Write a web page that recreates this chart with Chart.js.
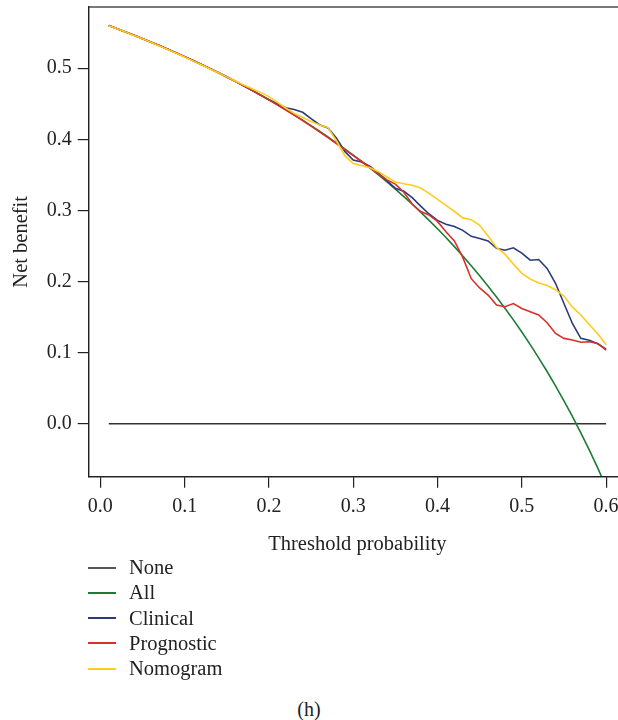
<!DOCTYPE html>
<html>
<head>
<meta charset="utf-8">
<script src="https://cdn.jsdelivr.net/npm/chart.js@4.4.1/dist/chart.umd.min.js"></script>
<style>
  body { margin: 0; background: #fff; overflow: hidden; }
  #wrap { position: relative; width: 618px; height: 720px; overflow: hidden; }
  #c { position: absolute; left: 0; top: 0; }
  .lg-row { position: absolute; left: 88px; height: 24px; display: flex; align-items: center;
            font: 20.5px "Liberation Serif", serif; color: #222; white-space: nowrap; }
  .lg-line { display: inline-block; width: 28px; height: 0; border-top: 2px solid; margin-right: 13px; }
  #caption { position: absolute; left: 0; width: 618px; top: 698px; text-align: center;
             font: 20px "Liberation Serif", serif; color: #222; }
</style>
</head>
<body>
<div id="wrap">
  <canvas id="c" width="640" height="560"></canvas>
  <div id="legend"></div>
  <div id="caption">(h)</div>
</div>
<script>
const thresholds = [
  0.01, 0.02, 0.03, 0.04, 0.05, 0.06, 0.07, 0.08, 0.09, 0.10,
  0.11, 0.12, 0.13, 0.14, 0.15, 0.16, 0.17, 0.18, 0.19, 0.20,
  0.21, 0.22, 0.23, 0.24, 0.25, 0.26, 0.27, 0.28, 0.29, 0.30,
  0.31, 0.32, 0.33, 0.34, 0.35, 0.36, 0.37, 0.38, 0.39, 0.40,
  0.41, 0.42, 0.43, 0.44, 0.45, 0.46, 0.47, 0.48, 0.49, 0.50,
  0.51, 0.52, 0.53, 0.54, 0.55, 0.56, 0.57, 0.58, 0.59, 0.60
];

const netNone = [
  0, 0, 0, 0, 0, 0, 0, 0, 0, 0,
  0, 0, 0, 0, 0, 0, 0, 0, 0, 0,
  0, 0, 0, 0, 0, 0, 0, 0, 0, 0,
  0, 0, 0, 0, 0, 0, 0, 0, 0, 0,
  0, 0, 0, 0, 0, 0, 0, 0, 0, 0,
  0, 0, 0, 0, 0, 0, 0, 0, 0, 0
];

const netAll = [
  0.5601, 0.5556, 0.5510, 0.5464, 0.5416, 0.5367, 0.5317, 0.5266, 0.5214, 0.5161,
  0.5107, 0.5051, 0.4994, 0.4936, 0.4876, 0.4815, 0.4753, 0.4689, 0.4623, 0.4556,
  0.4487, 0.4417, 0.4344, 0.4270, 0.4193, 0.4115, 0.4034, 0.3951, 0.3866, 0.3779,
  0.3688, 0.3596, 0.3500, 0.3402, 0.3300, 0.3195, 0.3087, 0.2976, 0.2861, 0.2742,
  0.2619, 0.2491, 0.2360, 0.2223, 0.2082, 0.1935, 0.1783, 0.1625, 0.1461, 0.1290,
  0.1112, 0.0927, 0.0734, 0.0533, 0.0322, 0.0102, -0.0128, -0.0369, -0.0622, -0.0888
];

const netClinical = [
  0.5601, 0.5556, 0.5510, 0.5463, 0.5415, 0.5366, 0.5318, 0.5267, 0.5216, 0.5163,
  0.5108, 0.5053, 0.4997, 0.4940, 0.4881, 0.4818, 0.4754, 0.4688, 0.4622, 0.4557,
  0.4500, 0.4445, 0.4420, 0.4380, 0.4290, 0.4205, 0.4160, 0.4020, 0.3830, 0.3710,
  0.3680, 0.3620, 0.3525, 0.3420, 0.3310, 0.3270, 0.3180, 0.3060, 0.2950, 0.2860,
  0.2805, 0.2775, 0.2720, 0.2635, 0.2605, 0.2570, 0.2467, 0.2440, 0.2475, 0.2400,
  0.2300, 0.2310, 0.2185, 0.1975, 0.1690, 0.1410, 0.1200, 0.1175, 0.1125, 0.1050
];

const netPrognostic = [
  0.5601, 0.5556, 0.5511, 0.5465, 0.5417, 0.5368, 0.5318, 0.5268, 0.5216, 0.5163,
  0.5109, 0.5053, 0.4996, 0.4938, 0.4877, 0.4816, 0.4753, 0.4688, 0.4622, 0.4554,
  0.4485, 0.4412, 0.4340, 0.4265, 0.4185, 0.4105, 0.4025, 0.3940, 0.3855, 0.3770,
  0.3688, 0.3600, 0.3510, 0.3430, 0.3370, 0.3255, 0.3090, 0.2985, 0.2935, 0.2845,
  0.2700, 0.2570, 0.2340, 0.2040, 0.1910, 0.1810, 0.1670, 0.1646, 0.1690, 0.1620,
  0.1575, 0.1530, 0.1420, 0.1270, 0.1200, 0.1177, 0.1145, 0.1153, 0.1130, 0.1035
];

const netNomogram = [
  0.5599, 0.5554, 0.5508, 0.5461, 0.5413, 0.5364, 0.5314, 0.5262, 0.5210, 0.5157,
  0.5103, 0.5048, 0.4992, 0.4936, 0.4878, 0.4820, 0.4765, 0.4712, 0.4660, 0.4600,
  0.4520, 0.4440, 0.4365, 0.4310, 0.4250, 0.4200, 0.4165, 0.3980, 0.3770, 0.3660,
  0.3630, 0.3600, 0.3545, 0.3470, 0.3400, 0.3375, 0.3355, 0.3315, 0.3240, 0.3155,
  0.3070, 0.2985, 0.2895, 0.2870, 0.2790, 0.2640, 0.2480, 0.2385, 0.2245, 0.2115,
  0.2035, 0.1980, 0.1945, 0.1885, 0.1795, 0.1640, 0.1530, 0.1395, 0.1265, 0.1110
];

const xTicks = [0, 0.1, 0.2, 0.3, 0.4, 0.5, 0.6];
const yTicks = [0, 0.1, 0.2, 0.3, 0.4, 0.5];

const seriesNames = ["None", "All", "Clinical", "Prognostic", "Nomogram"];
const seriesData = [netNone, netAll, netClinical, netPrognostic, netNomogram];
const seriesColors = ["#333333", "#1f7a35", "#2b3a7a", "#d9302a", "#ffcc1f"];

const serif = "'Liberation Serif', 'Times New Roman', serif";
const axisInk = "#222";

const boxPlugin = {
  id: "boxPlugin",
  afterDraw(c) {
    const { ctx, chartArea } = c;
    ctx.save();
    ctx.strokeStyle = axisInk;
    ctx.lineWidth = 1.2;
    ctx.strokeRect(chartArea.left, chartArea.top, chartArea.right - chartArea.left, chartArea.bottom - chartArea.top);
    ctx.restore();
  }
};

const datasets = seriesNames.map((name, i) => ({
  label: name,
  data: thresholds.map((t, j) => ({ x: t, y: seriesData[i][j] })),
  borderColor: seriesColors[i],
  backgroundColor: seriesColors[i],
  borderWidth: 1.6,
  pointRadius: 0,
  tension: 0,
  fill: false,
  order: seriesNames.length - i
}));

new Chart(document.getElementById("c"), {
  type: "line",
  data: { datasets },
  options: {
    responsive: false,
    animation: false,
    layout: { padding: { top: 7, right: 14, left: 0, bottom: 0 } },
    plugins: { legend: { display: false }, tooltip: { enabled: false } },
    scales: {
      x: {
        type: "linear",
        min: -0.0138,
        max: 0.6236,
        afterFit(s) {
          s.height = 560 - 476.7;
          s.paddingLeft = 0;
          s.paddingRight = 0;
        },
        afterBuildTicks(s) { s.ticks = xTicks.map(v => ({ value: v })); },
        ticks: {
          padding: 7,
          color: axisInk,
          font: { family: serif, size: 20 },
          callback: v => v.toFixed(1)
        },
        grid: { drawOnChartArea: false, drawTicks: true, tickLength: 11, color: axisInk, lineWidth: 1.2 },
        border: { display: true, color: axisInk, width: 1.2 },
        title: {
          display: true,
          text: "Threshold probability",
          color: axisInk,
          font: { family: serif, size: 20.5 },
          padding: { top: 0, bottom: 3 }
        }
      },
      y: {
        type: "linear",
        min: -0.0745,
        max: 0.5861,
        afterFit(s) {
          s.width = 88.7;
          s.paddingTop = 0;
          s.paddingBottom = 0;
        },
        afterBuildTicks(s) { s.ticks = yTicks.map(v => ({ value: v })); },
        ticks: {
          padding: 6,
          color: axisInk,
          font: { family: serif, size: 20 },
          callback: v => v.toFixed(1)
        },
        grid: { drawOnChartArea: false, drawTicks: true, tickLength: 11, color: axisInk, lineWidth: 1.2 },
        border: { display: true, color: axisInk, width: 1.2 },
        title: {
          display: true,
          text: "Net benefit",
          color: axisInk,
          font: { family: serif, size: 20.5 },
          padding: { top: 9, bottom: 0 }
        }
      }
    }
  },
  plugins: [boxPlugin]
});

// legend, stacked down the left under the plot
const legendEl = document.getElementById("legend");
seriesNames.forEach((name, i) => {
  const row = document.createElement("div");
  row.className = "lg-row";
  row.style.top = (555.5 + i * 25.25) + "px";
  const line = document.createElement("span");
  line.className = "lg-line";
  line.style.borderTopColor = i === 0 ? "#555" : seriesColors[i];
  const txt = document.createElement("span");
  txt.textContent = name;
  row.appendChild(line);
  row.appendChild(txt);
  legendEl.appendChild(row);
});
</script>
</body>
</html>
